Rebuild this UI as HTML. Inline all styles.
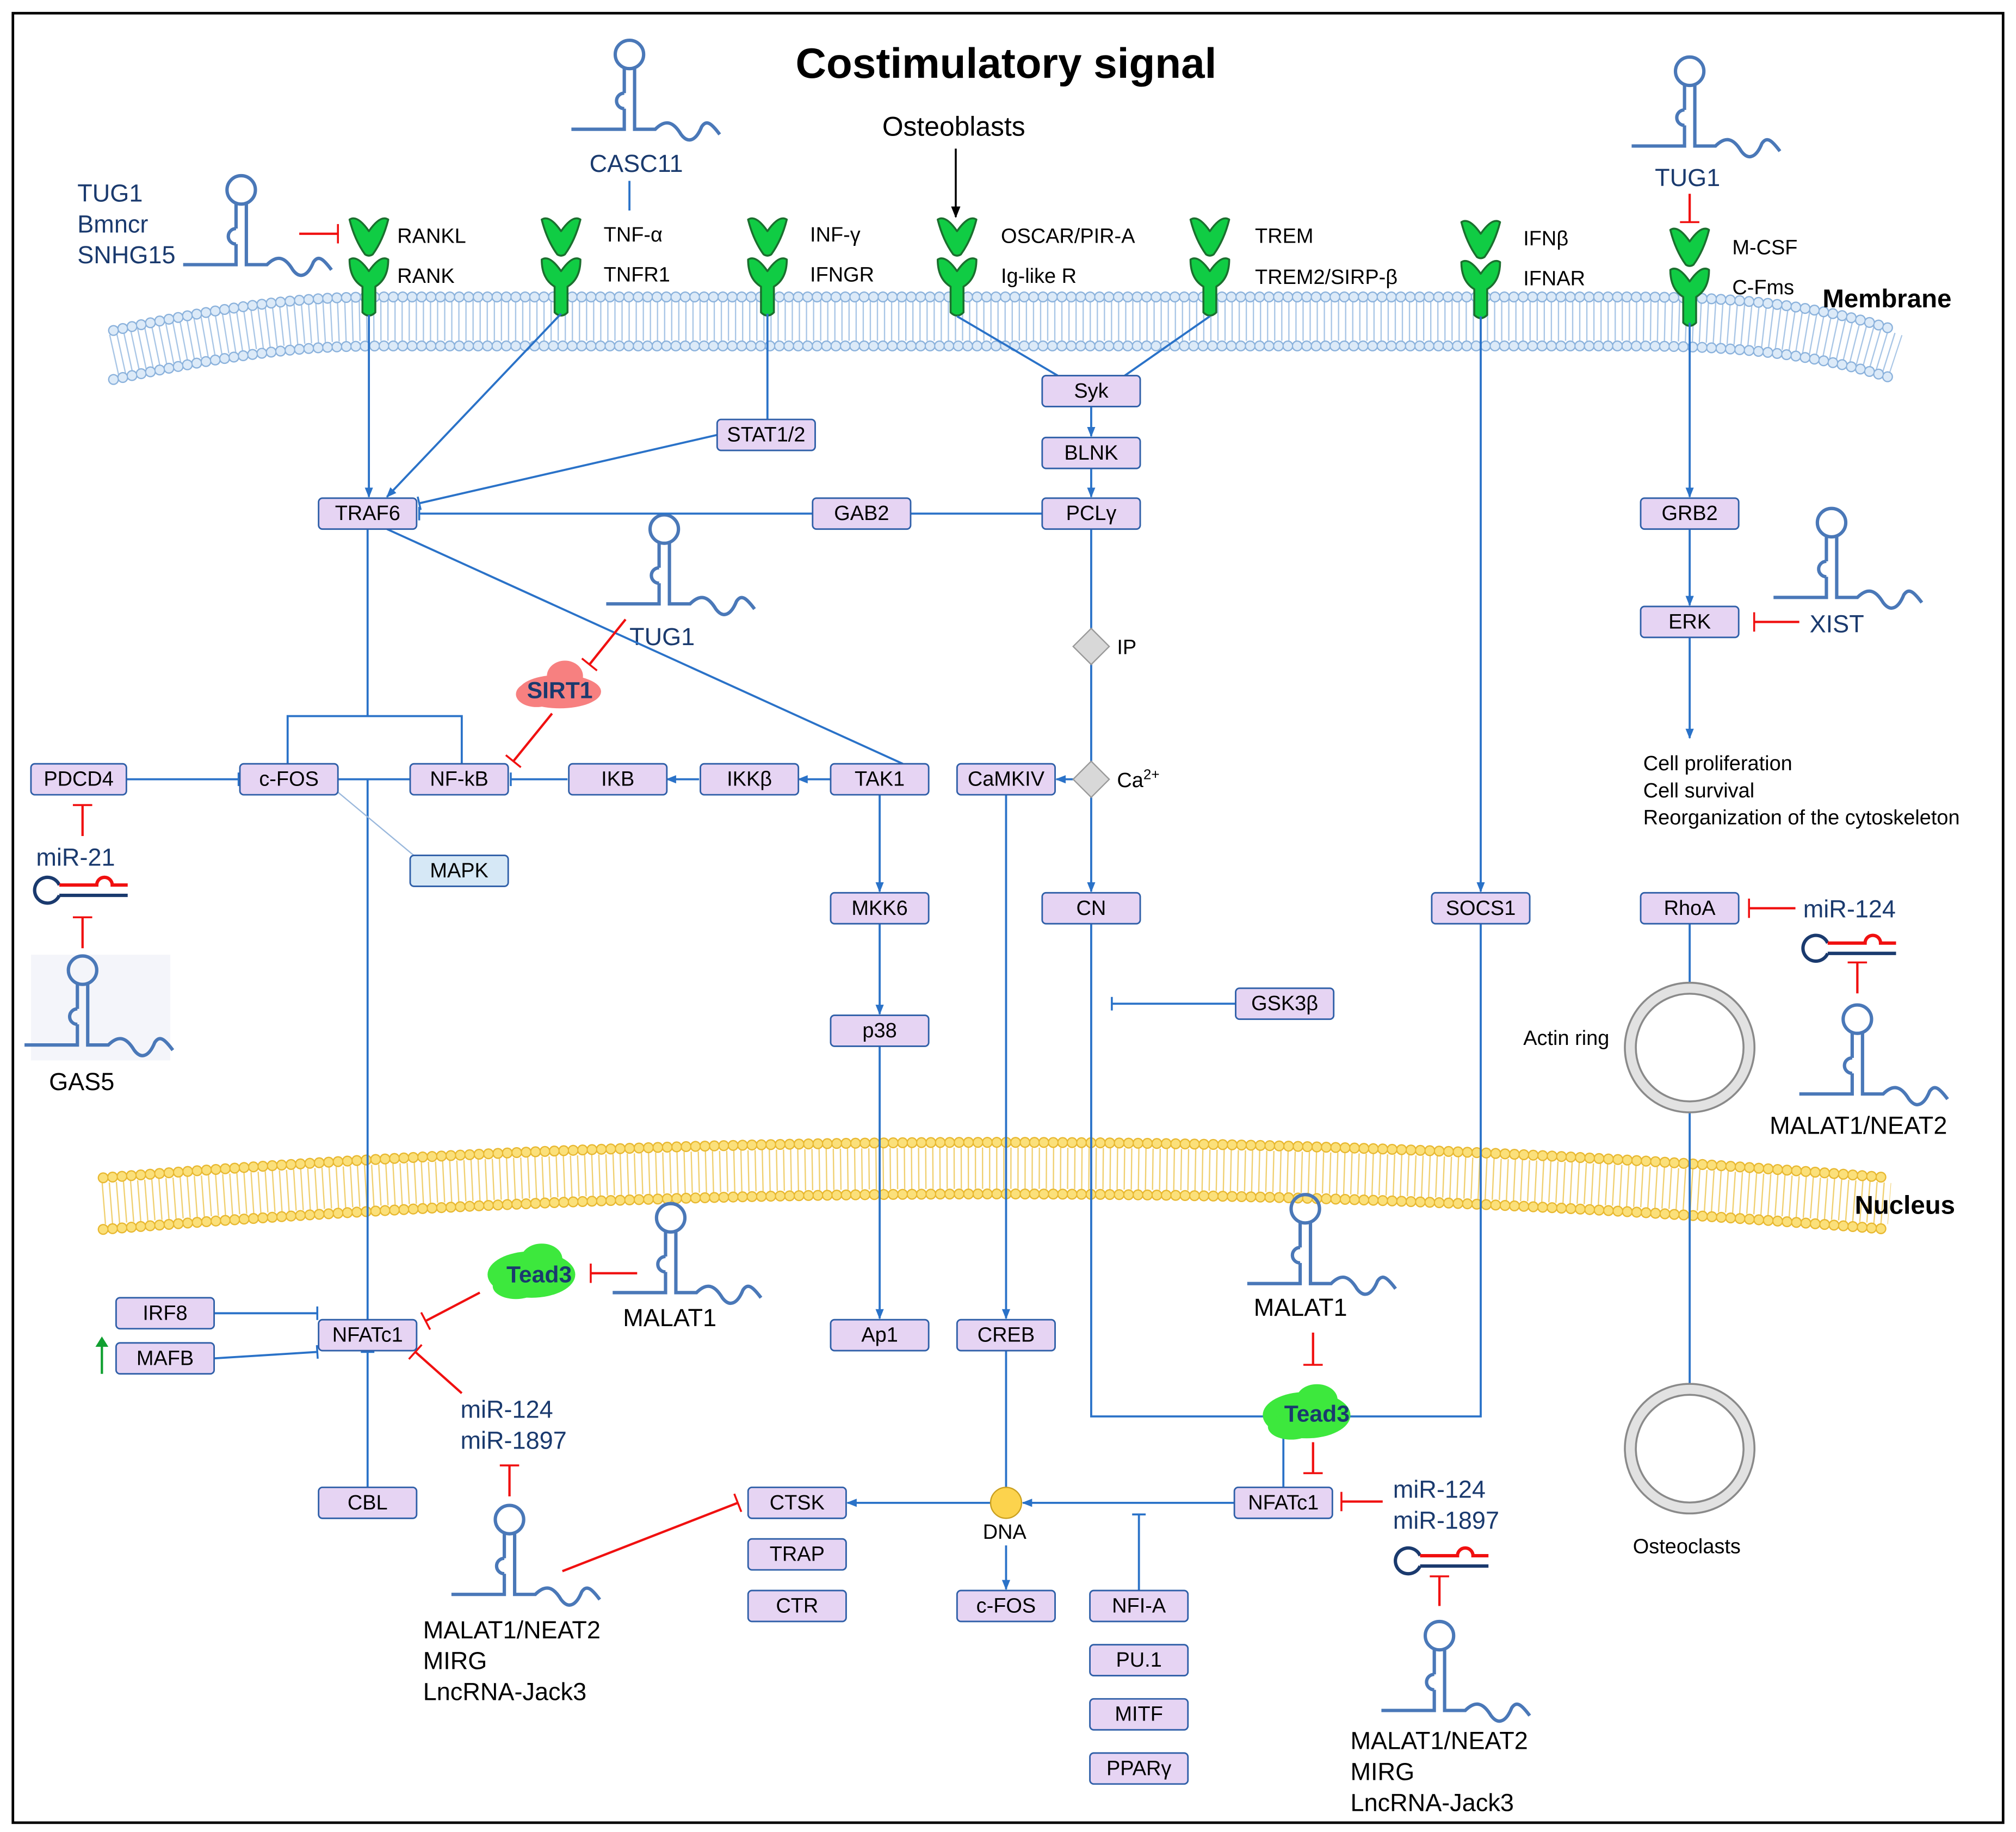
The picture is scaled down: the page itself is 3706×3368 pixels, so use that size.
<!DOCTYPE html>
<html><head><meta charset="utf-8"><style>
html,body{margin:0;padding:0;background:#fff}
svg{display:block}
text{font-family:"Liberation Sans",sans-serif}
.b rect{fill:#e6d4f3;stroke:#2f5fa8;stroke-width:1.2}
.b text{font-size:16px;text-anchor:middle;dominant-baseline:central}
.l{stroke:#2a72c8;stroke-width:1.6;fill:none}
.r{stroke:#f01010;stroke-width:1.8;fill:none}
.nv{fill:#1a3a6e;font-size:19px}
.bk{fill:#000;font-size:19px}
.sm{fill:#000;font-size:16px}
</style></head><body>
<svg width="3706" height="3368" viewBox="0 0 1563 1420" xmlns="http://www.w3.org/2000/svg">
<defs>
<marker id="a" viewBox="0 0 10 10" refX="9" refY="5" markerWidth="8" markerHeight="8" markerUnits="userSpaceOnUse" orient="auto"><path d="M0,1 L10,5 L0,9 Z" fill="#2a72c8"/></marker>
<marker id="t" viewBox="0 0 4 14" refX="2" refY="7" markerWidth="3" markerHeight="12" markerUnits="userSpaceOnUse" orient="auto"><rect x="1" y="0" width="2" height="14" fill="#2a72c8"/></marker>
<marker id="rt" viewBox="0 0 4 20" refX="2" refY="10" markerWidth="3" markerHeight="18" markerUnits="userSpaceOnUse" orient="auto"><rect x="1" y="0" width="2" height="20" fill="#f01010"/></marker>
<marker id="ka" viewBox="0 0 10 10" refX="9" refY="5" markerWidth="9" markerHeight="9" markerUnits="userSpaceOnUse" orient="auto"><path d="M0,1 L10,5 L0,9 Z" fill="#000"/></marker>
<g id="hp" fill="none" stroke="#4a78b8" stroke-width="2.6">
<circle cx="0" cy="0" r="11"/>
<path d="M-4,11 L-4,30 M-4,42 L-4,58 L-45,58 M4,11 L4,58 L20,58 C28,50 34,52 40,62 C46,70 52,66 56,56 C60,50 64,54 70,62"/>
<path d="M-4,30 A6,6 0 1 0 -4,42"/>
</g>
<g id="mi" fill="none" stroke-width="2.6">
<path d="M9,-4 A10,10 0 1 0 9,4" stroke="#1a3a6e"/>
<path d="M9,4 L62,4" stroke="#1a3a6e"/>
<path d="M9,-4 L38,-4 A6,6 0 0 1 50,-4 L62,-4" stroke="#f01010"/>
</g>
<g id="lig"><path d="M-15,-12 Q-9,-16 0,-3 Q9,-16 15,-12 Q11,4 3,15 Q0,17 -3,15 Q-11,4 -15,-12 Z" stroke="#1b6f2e" stroke-width="1.5" fill="#10cc44" stroke-linejoin="round"/></g>
<g id="rec"><path d="M-15,-12 Q-9,-16 0,-3 Q9,-16 15,-12 Q15,3 5,9 L5,29 Q0,34 -5,29 L-5,9 Q-15,3 -15,-12 Z" stroke="#1b6f2e" stroke-width="1.5" fill="#10cc44" stroke-linejoin="round"/></g>
</defs>
<rect x="10" y="10" width="1543" height="1403" fill="#fff" stroke="#000" stroke-width="2"/>
<text x="780" y="60" font-size="33" font-weight="bold" text-anchor="middle">Costimulatory signal</text>

<g fill="none">
<path d="M88,275 C200,250 250,248 300,248 L1260,248 C1330,248 1400,252 1470,275" stroke="#a9c6e6" stroke-width="32" stroke-dasharray="1 4.5"/>
<path d="M88,256 C200,232 250,230 300,230 L1260,230 C1330,230 1400,233 1470,256" stroke="#8bb2dc" stroke-width="8.5" stroke-dasharray="0 7.3" stroke-linecap="round"/>
<path d="M88,256 C200,232 250,230 300,230 L1260,230 C1330,230 1400,233 1470,256" stroke="#dceaf8" stroke-width="6.5" stroke-dasharray="0 7.3" stroke-linecap="round"/>
<path d="M88,294 C200,270 250,268 300,268 L1260,268 C1330,268 1400,271 1470,294" stroke="#8bb2dc" stroke-width="8.5" stroke-dasharray="0 7.3" stroke-linecap="round"/>
<path d="M88,294 C200,270 250,268 300,268 L1260,268 C1330,268 1400,271 1470,294" stroke="#dceaf8" stroke-width="6.5" stroke-dasharray="0 7.3" stroke-linecap="round"/>
<path d="M80,933 Q772,878 1465,933" stroke="#f0d070" stroke-width="32" stroke-dasharray="1 4.5"/>
<path d="M80,913 Q772,858 1465,913" stroke="#e8b830" stroke-width="8.5" stroke-dasharray="0 7.3" stroke-linecap="round"/>
<path d="M80,913 Q772,858 1465,913" stroke="#fbe07a" stroke-width="6.5" stroke-dasharray="0 7.3" stroke-linecap="round"/>
<path d="M80,953 Q772,898 1465,953" stroke="#e8b830" stroke-width="8.5" stroke-dasharray="0 7.3" stroke-linecap="round"/>
<path d="M80,953 Q772,898 1465,953" stroke="#fbe07a" stroke-width="6.5" stroke-dasharray="0 7.3" stroke-linecap="round"/>
</g>
<text x="1413" y="238" font-size="20" font-weight="bold">Membrane</text>
<text x="1438" y="941" font-size="20" font-weight="bold">Nucleus</text>

<use href="#lig" x="286" y="182"/><use href="#rec" x="286" y="213"/>
<use href="#lig" x="435" y="182"/><use href="#rec" x="435" y="213"/>
<use href="#lig" x="595" y="182"/><use href="#rec" x="595" y="213"/>
<use href="#lig" x="742" y="182"/><use href="#rec" x="742" y="213"/>
<use href="#lig" x="938" y="182"/><use href="#rec" x="938" y="213"/>
<use href="#lig" x="1148" y="184"/><use href="#rec" x="1148" y="215"/>
<use href="#lig" x="1310" y="190"/><use href="#rec" x="1310" y="221"/>
<g class="sm">
<text x="308" y="188">RANKL</text><text x="308" y="219">RANK</text>
<text x="468" y="187">TNF-α</text><text x="468" y="218">TNFR1</text>
<text x="628" y="187">INF-γ</text><text x="628" y="218">IFNGR</text>
<text x="776" y="188">OSCAR/PIR-A</text><text x="776" y="219">Ig-like R</text>
<text x="973" y="188">TREM</text><text x="973" y="220">TREM2/SIRP-β</text>
<text x="1181" y="190">IFNβ</text><text x="1181" y="221">IFNAR</text>
<text x="1343" y="197">M-CSF</text><text x="1343" y="228">C-Fms</text>
</g>

<use href="#hp" x="488" y="42"/>
<use href="#hp" x="187" y="147"/>
<use href="#hp" x="1310" y="55"/>
<use href="#hp" x="515" y="410"/>
<use href="#hp" x="1420" y="405"/>
<rect x="24" y="740" width="108" height="82" fill="#f4f5fa"/>
<use href="#hp" x="64" y="752"/>
<use href="#hp" x="520" y="944"/>
<use href="#hp" x="1012" y="937"/>
<use href="#hp" x="1440" y="790"/>
<use href="#hp" x="395" y="1178"/>
<use href="#hp" x="1116" y="1268"/>
<use href="#mi" x="37" y="690"/>
<use href="#mi" x="1408" y="735"/>
<use href="#mi" x="1092" y="1210"/>

<g class="nv">
<text x="60" y="156">TUG1</text><text x="60" y="180">Bmncr</text><text x="60" y="204">SNHG15</text>
<text x="457" y="133">CASC11</text>
<text x="1283" y="144">TUG1</text>
<text x="488" y="500">TUG1</text>
<text x="1403" y="490">XIST</text>
<text x="28" y="671">miR-21</text>
<text x="1398" y="711">miR-124</text>
<text x="357" y="1099">miR-124</text><text x="357" y="1123">miR-1897</text>
<text x="1080" y="1161">miR-124</text><text x="1080" y="1185">miR-1897</text>
</g>
<g class="bk">
<text x="684" y="105" font-size="21">Osteoblasts</text>
<text x="38" y="845">GAS5</text>
<text x="483" y="1028">MALAT1</text>
<text x="972" y="1020">MALAT1</text>
<text x="1372" y="879">MALAT1/NEAT2</text>
<text x="328" y="1270">MALAT1/NEAT2</text><text x="328" y="1294">MIRG</text><text x="328" y="1318">LncRNA-Jack3</text>
<text x="1047" y="1356">MALAT1/NEAT2</text><text x="1047" y="1380">MIRG</text><text x="1047" y="1404">LncRNA-Jack3</text>
</g>
<g class="sm">
<text x="1274" y="597">Cell proliferation</text><text x="1274" y="618">Cell survival</text><text x="1274" y="639">Reorganization of the cytoskeleton</text>
<text x="1181" y="810">Actin ring</text>
<text x="1266" y="1204">Osteoclasts</text>
<text x="866" y="507">IP</text>
<text x="866" y="610">Ca<tspan font-size="11" dy="-6">2+</tspan></text>
<text x="762" y="1193">DNA</text>
</g>

<g class="l">
<line x1="488" y1="140" x2="488" y2="163"/>
<line x1="286" y1="244" x2="286" y2="385" marker-end="url(#a)"/>
<line x1="435" y1="243" x2="300" y2="385" marker-end="url(#a)"/>
<line x1="595" y1="243" x2="595" y2="325"/>
<line x1="556" y1="337" x2="325" y2="390" marker-end="url(#t)"/>
<line x1="742" y1="245" x2="820" y2="291"/>
<line x1="938" y1="245" x2="872" y2="291"/>
<line x1="846" y1="315" x2="846" y2="338" marker-end="url(#a)"/>
<line x1="846" y1="363" x2="846" y2="385" marker-end="url(#a)"/>
<line x1="808" y1="398" x2="706" y2="398"/>
<line x1="630" y1="398" x2="325" y2="398" marker-end="url(#t)"/>
<line x1="846" y1="410" x2="846" y2="488"/>
<line x1="846" y1="514" x2="846" y2="590"/>
<line x1="846" y1="618" x2="846" y2="691" marker-end="url(#a)"/>
<line x1="832" y1="604" x2="819" y2="604" marker-end="url(#a)"/>
<path d="M285,410 L285,555 M223,592 L223,555 L358,555 L358,592"/>
<line x1="300" y1="410" x2="700" y2="592"/>
<line x1="644" y1="604" x2="619" y2="604" marker-end="url(#a)"/>
<line x1="542" y1="604" x2="517" y2="604" marker-end="url(#a)"/>
<line x1="440" y1="604" x2="396" y2="604" marker-end="url(#t)"/>
<line x1="318" y1="604" x2="262" y2="604"/>
<line x1="285" y1="604" x2="285" y2="1023"/>
<line x1="262" y1="614" x2="322" y2="664" stroke="#9ab8dc" stroke-width="1"/>
<line x1="98" y1="604" x2="185" y2="604" marker-end="url(#t)"/>
<line x1="682" y1="616" x2="682" y2="691" marker-end="url(#a)"/>
<line x1="682" y1="716" x2="682" y2="786" marker-end="url(#a)"/>
<line x1="682" y1="811" x2="682" y2="1022" marker-end="url(#a)"/>
<line x1="780" y1="616" x2="780" y2="1022" marker-end="url(#a)"/>
<line x1="780" y1="1047" x2="780" y2="1153"/>
<line x1="768" y1="1165" x2="657" y2="1165" marker-end="url(#a)"/>
<line x1="780" y1="1198" x2="780" y2="1232" marker-end="url(#a)"/>
<line x1="957" y1="1165" x2="793" y2="1165" marker-end="url(#a)"/>
<line x1="883" y1="1233" x2="883" y2="1174" marker-end="url(#t)"/>
<path d="M846,716 L846,1098 L985,1098 M1045,1098 L1148,1098 L1148,716"/>
<line x1="995" y1="1153" x2="995" y2="1112"/>
<line x1="958" y1="778" x2="862" y2="778" marker-end="url(#t)"/>
<line x1="1148" y1="245" x2="1148" y2="691" marker-end="url(#a)"/>
<line x1="1310" y1="250" x2="1310" y2="385" marker-end="url(#a)"/>
<line x1="1310" y1="410" x2="1310" y2="469" marker-end="url(#a)"/>
<line x1="1310" y1="494" x2="1310" y2="572" marker-end="url(#a)"/>
<line x1="1310" y1="716" x2="1310" y2="764"/>
<line x1="1310" y1="860" x2="1310" y2="1075"/>
<line x1="166" y1="1018" x2="246" y2="1018" marker-end="url(#t)"/>
<line x1="166" y1="1053" x2="246" y2="1048" marker-end="url(#t)"/>
<line x1="285" y1="1153" x2="285" y2="1048" marker-end="url(#t)"/>
</g>
<line x1="741" y1="115" x2="741" y2="168" stroke="#000" stroke-width="1.5" marker-end="url(#ka)"/>
<line x1="79" y1="1065" x2="79" y2="1040" stroke="#10a030" stroke-width="1.8"/>
<path d="M74,1044 L79,1036 L84,1044 Z" fill="#10a030"/>

<g class="r">
<line x1="232" y1="181" x2="262" y2="181" marker-end="url(#rt)"/>
<line x1="1310" y1="150" x2="1310" y2="172" marker-end="url(#rt)"/>
<line x1="1395" y1="482" x2="1360" y2="482" marker-end="url(#rt)"/>
<line x1="1392" y1="704" x2="1356" y2="704" marker-end="url(#rt)"/>
<line x1="1440" y1="770" x2="1440" y2="746" marker-end="url(#rt)"/>
<line x1="485" y1="480" x2="457" y2="515" marker-end="url(#rt)"/>
<line x1="428" y1="553" x2="398" y2="590" marker-end="url(#rt)"/>
<line x1="64" y1="648" x2="64" y2="624" marker-end="url(#rt)"/>
<line x1="64" y1="735" x2="64" y2="711" marker-end="url(#rt)"/>
<line x1="494" y1="987" x2="458" y2="987" marker-end="url(#rt)"/>
<line x1="372" y1="1002" x2="330" y2="1024" marker-end="url(#rt)"/>
<line x1="358" y1="1080" x2="322" y2="1048" marker-end="url(#rt)"/>
<line x1="395" y1="1160" x2="395" y2="1136" marker-end="url(#rt)"/>
<line x1="436" y1="1218" x2="572" y2="1165" marker-end="url(#rt)"/>
<line x1="1018" y1="1033" x2="1018" y2="1058" marker-end="url(#rt)"/>
<line x1="1018" y1="1118" x2="1018" y2="1142" marker-end="url(#rt)"/>
<line x1="1072" y1="1164" x2="1040" y2="1164" marker-end="url(#rt)"/>
<line x1="1116" y1="1245" x2="1116" y2="1222" marker-end="url(#rt)"/>
</g>

<path d="M846,487 L860,501 L846,515 L832,501 Z" fill="#d8d8d8" stroke="#999" stroke-width="1"/>
<path d="M846,590 L860,604 L846,618 L832,604 Z" fill="#d8d8d8" stroke="#999" stroke-width="1"/>
<circle cx="780" cy="1165" r="12" fill="#fcd34d" stroke="#caa020" stroke-width="1"/>
<circle cx="1310" cy="812" r="46" fill="none" stroke="#8a8a8a" stroke-width="10"/>
<circle cx="1310" cy="812" r="46" fill="none" stroke="#e2e2e2" stroke-width="7"/>
<circle cx="1310" cy="1123" r="46" fill="none" stroke="#8a8a8a" stroke-width="10"/>
<circle cx="1310" cy="1123" r="46" fill="none" stroke="#e2e2e2" stroke-width="7"/>

<g fill="#f78080"><ellipse cx="434" cy="536" rx="32" ry="13"/><ellipse cx="438" cy="524" rx="14" ry="12"/><ellipse cx="416" cy="538" rx="16" ry="10"/></g>
<text x="434" y="541" text-anchor="middle" font-size="18" font-weight="bold" fill="#1a3a6e">SIRT1</text>
<g fill="#3de83d"><ellipse cx="412" cy="988" rx="34" ry="18"/><ellipse cx="420" cy="976" rx="16" ry="12"/><ellipse cx="400" cy="997" rx="18" ry="10"/></g>
<text x="418" y="994" text-anchor="middle" font-size="18" font-weight="bold" fill="#1a3a6e">Tead3</text>
<g fill="#3de83d"><ellipse cx="1013" cy="1097" rx="34" ry="18"/><ellipse cx="1021" cy="1085" rx="16" ry="12"/><ellipse cx="1001" cy="1106" rx="18" ry="10"/></g>
<text x="1021" y="1102" text-anchor="middle" font-size="18" font-weight="bold" fill="#1a3a6e">Tead3</text>

<g class="b">
<g><rect x="808" y="291" width="76" height="24" rx="3"/><text x="846" y="303">Syk</text></g>
<g><rect x="556" y="325" width="76" height="24" rx="3"/><text x="594" y="337" font-size="14">STAT1/2</text></g>
<g><rect x="808" y="339" width="76" height="24" rx="3"/><text x="846" y="351">BLNK</text></g>
<g><rect x="247" y="386" width="76" height="24" rx="3"/><text x="285" y="398">TRAF6</text></g>
<g><rect x="630" y="386" width="76" height="24" rx="3"/><text x="668" y="398">GAB2</text></g>
<g><rect x="808" y="386" width="76" height="24" rx="3"/><text x="846" y="398">PCLγ</text></g>
<g><rect x="1272" y="386" width="76" height="24" rx="3"/><text x="1310" y="398">GRB2</text></g>
<g><rect x="1272" y="470" width="76" height="24" rx="3"/><text x="1310" y="482">ERK</text></g>
<g><rect x="24" y="592" width="74" height="24" rx="3"/><text x="61" y="604">PDCD4</text></g>
<g><rect x="186" y="592" width="76" height="24" rx="3"/><text x="224" y="604">c-FOS</text></g>
<g><rect x="318" y="592" width="76" height="24" rx="3"/><text x="356" y="604">NF-kB</text></g>
<g><rect x="441" y="592" width="76" height="24" rx="3"/><text x="479" y="604">IKB</text></g>
<g><rect x="543" y="592" width="76" height="24" rx="3"/><text x="581" y="604">IKKβ</text></g>
<g><rect x="644" y="592" width="76" height="24" rx="3"/><text x="682" y="604">TAK1</text></g>
<g><rect x="742" y="592" width="76" height="24" rx="3"/><text x="780" y="604" font-size="14">CaMKIV</text></g>
<g><rect x="318" y="663" width="76" height="24" rx="3" style="fill:#d6e8f6"/><text x="356" y="675">MAPK</text></g>
<g><rect x="644" y="692" width="76" height="24" rx="3"/><text x="682" y="704">MKK6</text></g>
<g><rect x="808" y="692" width="76" height="24" rx="3"/><text x="846" y="704">CN</text></g>
<g><rect x="1110" y="692" width="76" height="24" rx="3"/><text x="1148" y="704">SOCS1</text></g>
<g><rect x="1272" y="692" width="76" height="24" rx="3"/><text x="1310" y="704">RhoA</text></g>
<g><rect x="958" y="766" width="76" height="24" rx="3"/><text x="996" y="778">GSK3β</text></g>
<g><rect x="644" y="787" width="76" height="24" rx="3"/><text x="682" y="799">p38</text></g>
<g><rect x="90" y="1006" width="76" height="24" rx="3"/><text x="128" y="1018">IRF8</text></g>
<g><rect x="247" y="1023" width="76" height="24" rx="3"/><text x="285" y="1035">NFATc1</text></g>
<g><rect x="90" y="1041" width="76" height="24" rx="3"/><text x="128" y="1053">MAFB</text></g>
<g><rect x="644" y="1023" width="76" height="24" rx="3"/><text x="682" y="1035">Ap1</text></g>
<g><rect x="742" y="1023" width="76" height="24" rx="3"/><text x="780" y="1035">CREB</text></g>
<g><rect x="247" y="1153" width="76" height="24" rx="3"/><text x="285" y="1165">CBL</text></g>
<g><rect x="580" y="1153" width="76" height="24" rx="3"/><text x="618" y="1165">CTSK</text></g>
<g><rect x="957" y="1153" width="76" height="24" rx="3"/><text x="995" y="1165">NFATc1</text></g>
<g><rect x="580" y="1193" width="76" height="24" rx="3"/><text x="618" y="1205">TRAP</text></g>
<g><rect x="580" y="1233" width="76" height="24" rx="3"/><text x="618" y="1245">CTR</text></g>
<g><rect x="742" y="1233" width="76" height="24" rx="3"/><text x="780" y="1245">c-FOS</text></g>
<g><rect x="845" y="1233" width="76" height="24" rx="3"/><text x="883" y="1245">NFI-A</text></g>
<g><rect x="845" y="1275" width="76" height="24" rx="3"/><text x="883" y="1287">PU.1</text></g>
<g><rect x="845" y="1317" width="76" height="24" rx="3"/><text x="883" y="1329">MITF</text></g>
<g><rect x="845" y="1359" width="76" height="24" rx="3"/><text x="883" y="1371">PPARγ</text></g>
</g>
</svg>
</body></html>
